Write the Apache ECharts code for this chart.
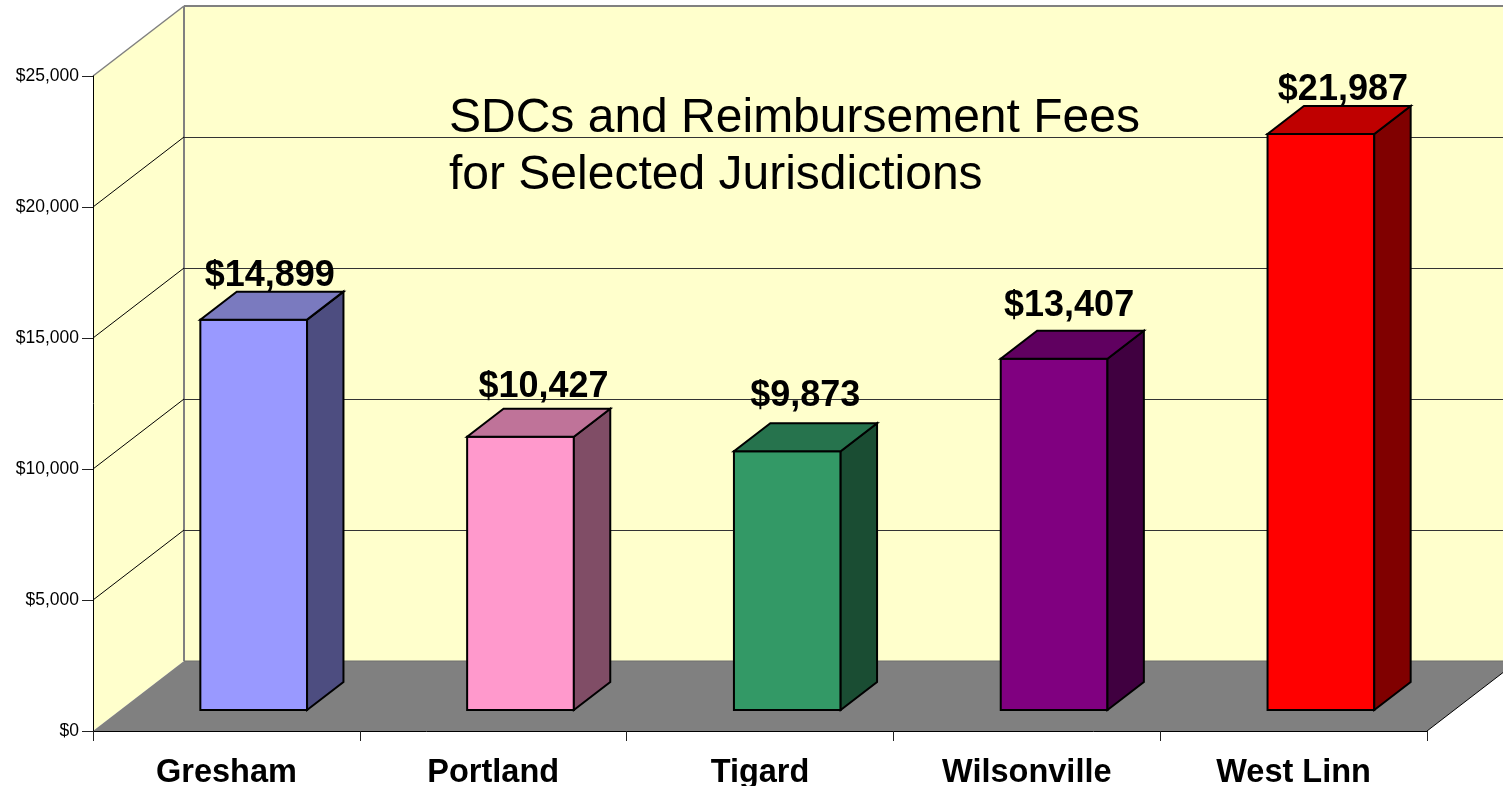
<!DOCTYPE html>
<html>
<head>
<meta charset="utf-8">
<style>html,body{margin:0;padding:0;background:#fff}#main{width:1503px;height:786px}</style>
<script src="https://cdn.jsdelivr.net/npm/echarts@6/dist/echarts.min.js"></script>
</head>
<body>
<div id="main"></div>
<script>
var categories = ['Gresham', 'Portland', 'Tigard', 'Wilsonville', 'West Linn'];
var fees = [14899, 10427, 9873, 13407, 21987];
var yTicks = [5000, 10000, 15000, 20000, 25000];
var frontColors = ['#9999FF', '#FF99CC', '#339966', '#800080', '#FF0000'];
var topColors = ['#7A7ABF', '#BF7399', '#26734D', '#600060', '#BF0000'];
var sideColors = ['#4D4D80', '#804D66', '#1A4D33', '#400040', '#800000'];
var titleText = 'SDCs and Reimbursement Fees\nfor Selected Jurisdictions';

// 3d look: how far the back wall sits from the axis plane, in px
var DX = 91, DY = 70;
var FONT = '"Liberation Sans", Arial, sans-serif';
// labels were hand placed in the original, so each one is nudged a bit
var labelNudge = [[-2, 0], [5, -6], [0, -11], [-3, -9], [4, 0]];

function poly(pts, fill, stroke, lw) {
  return {
    type: 'polygon',
    shape: { points: pts },
    style: { fill: fill, stroke: stroke || null, lineWidth: lw || 0 }
  };
}
function line(a, b, color, lw) {
  return {
    type: 'line',
    shape: { x1: a[0], y1: a[1], x2: b[0], y2: b[1] },
    style: { stroke: color, lineWidth: lw, fill: null }
  };
}

function renderWalls(params, api) {
  var half = api.size([1, 0])[0] / 2;
  var o = api.coord([0, 0]);
  var t = api.coord([0, 25000]);
  var r = api.coord([categories.length - 1, 0]);
  var x0 = o[0] - half, x1 = r[0] + half;
  var y0 = o[1], yt = t[1];
  return {
    type: 'group',
    children: [
      poly([[x0, y0], [x0 + DX, y0 - DY], [x1 + DX, y0 - DY], [x1 + DX, yt - DY], [x0 + DX, yt - DY], [x0, yt]], '#FFFFCC'),
      poly([[x0, y0], [x1, y0], [x1 + DX, y0 - DY], [x0 + DX, y0 - DY]], '#808080'),
      line([x0, yt], [x0 + DX, yt - DY], '#808080', 1.5),
      line([x0 + DX, yt - DY], [x1 + DX, yt - DY], '#808080', 2),
      line([x0 + DX, yt - DY], [x0 + DX, y0 - DY], '#808080', 2),
      line([x0 + DX, y0 - DY], [x1 + DX, y0 - DY], '#6E6E6E', 1),
      line([x1, y0], [x1 + DX, y0 - DY], '#000', 1)
    ]
  };
}

function renderGrid(params, api) {
  var half = api.size([1, 0])[0] / 2;
  var p = api.coord([0, api.value(1)]);
  var right = api.coord([categories.length - 1, 0])[0] + half;
  var x0 = p[0] - half, y = p[1];
  var kids = [];
  if (api.value(1) < 25000) {
    kids.push(line([x0, y], [x0 + DX, y - DY], '#000', 1));
    kids.push(line([x0 + DX, y - DY + 0.5], [right + DX, y - DY + 0.5], '#333', 1));
  }
  return { type: 'group', children: kids };
}

function renderBar(params, api) {
  var i = params.dataIndex;
  var base = api.coord([i, 0]);
  var top = api.coord([i, api.value(1)]);
  var band = api.size([1, 0])[0];
  var w = band * 0.4;
  // bar stands in the middle of the floor depth
  var fx = base[0] + DX * 0.3 - w / 2;
  var fy = base[1] - DY * 0.3;
  var ty = top[1] - DY * 0.3;
  var ox = DX * 0.4, oy = DY * 0.4;
  var r = fx + w;
  var s = '#000', lw = 2;
  return {
    type: 'group',
    children: [
      poly([[fx, fy], [r, fy], [r, ty], [fx, ty]], frontColors[i], s, lw),
      poly([[r, fy], [r + ox, fy - oy], [r + ox, ty - oy], [r, ty]], sideColors[i], s, lw),
      poly([[fx, ty], [r, ty], [r + ox, ty - oy], [fx + ox, ty - oy]], topColors[i], s, lw),
      {
        type: 'text',
        style: {
          text: '$' + api.value(1).toLocaleString('en-US'),
          x: fx + w / 2 + 18 + labelNudge[i][0],
          y: ty - 44 + labelNudge[i][1],
          align: 'center',
          verticalAlign: 'middle',
          fill: '#000',
          font: 'bold 36px ' + FONT
        }
      }
    ]
  };
}

var myChart = echarts.init(document.getElementById('main'), null, { renderer: 'canvas' });

var option = {
  animation: false,
  backgroundColor: '#fff',
  title: {
    text: titleText,
    left: 444,
    top: 85,
    textStyle: { fontFamily: FONT, fontWeight: 'normal', fontSize: 48, lineHeight: 57, color: '#000' },
    z: 20
  },
  tooltip: { show: false },
  grid: { left: 93, top: 76, width: 1334, height: 655, outerBoundsMode: 'none' },
  xAxis: {
    type: 'category',
    data: categories,
    z: 5,
    axisLine: { lineStyle: { color: '#000', width: 1 } },
    axisTick: { show: true, alignWithLabel: false, length: 10, lineStyle: { color: '#222' } },
    axisLabel: { margin: 26, color: '#000', fontFamily: FONT, fontWeight: 'bold', fontSize: 32.5, interval: 0 }
  },
  yAxis: {
    type: 'value',
    min: 0,
    max: 25000,
    interval: 5000,
    z: 5,
    splitLine: { show: false },
    axisLine: { show: true, lineStyle: { color: '#000', width: 1 } },
    axisTick: { show: true, length: 11, lineStyle: { color: '#222' } },
    axisLabel: {
      margin: 14,
      color: '#000',
      fontFamily: FONT,
      fontSize: 17.5,
      formatter: function (v) { return '$' + v.toLocaleString('en-US'); }
    }
  },
  series: [
    { type: 'custom', name: 'walls', z: 1, silent: true, renderItem: renderWalls, data: [[0, 0]], encode: { x: 0, y: 1 } },
    { type: 'custom', name: 'grid', z: 2, silent: true, renderItem: renderGrid, data: yTicks.map(function (v) { return [0, v]; }), encode: { x: 0, y: 1 } },
    { type: 'custom', name: 'fees', z: 3, renderItem: renderBar, data: fees.map(function (v, i) { return [i, v]; }), encode: { x: 0, y: 1 } }
  ]
};
myChart.setOption(option);
</script>
</body>
</html>
